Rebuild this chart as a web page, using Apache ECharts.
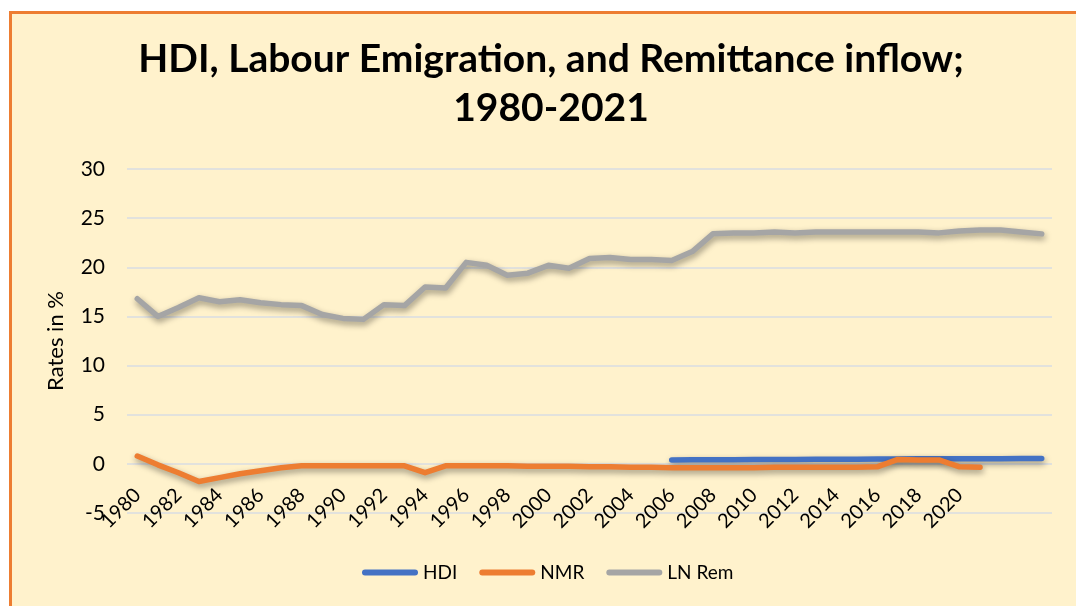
<!DOCTYPE html>
<html>
<head>
<meta charset="utf-8">
<script src="https://cdn.jsdelivr.net/npm/echarts@6/dist/echarts.min.js"></script>
<style>
  html, body { margin: 0; padding: 0; background: #ffffff; }
  #frame { position: absolute; left: 9px; top: 11px; width: 1100px; height: 700px;
           background: #FFF2CC; border-left: 3px solid #ED7D31; border-top: 3px solid #ED7D31; box-sizing: border-box; }
  #chart { position: absolute; left: 0; top: 0; width: 1076px; height: 606px; }
</style>
</head>
<body>
<div id="frame"></div>
<div id="chart"></div>
<script>
// Categories (years); last three slots carry no label in the source chart
const years = ['1980','1981','1982','1983','1984','1985','1986','1987','1988','1989',
  '1990','1991','1992','1993','1994','1995','1996','1997','1998','1999',
  '2000','2001','2002','2003','2004','2005','2006','2007','2008','2009',
  '2010','2011','2012','2013','2014','2015','2016','2017','2018','2019',
  '2020','2021','', ' ', '  '];

// HDI: 2006-2024
const hdi = [null,null,null,null,null,null,null,null,null,null,
  null,null,null,null,null,null,null,null,null,null,
  null,null,null,null,null,null,
  0.40,0.41,0.42,0.43,0.44,0.45,0.45,0.46,0.47,0.48,
  0.49,0.50,0.51,0.52,0.52,0.53,0.53,0.54,0.55];

// NMR: 1980-2021
const nmr = [0.8,-0.1,-0.9,-1.8,-1.4,-1.0,-0.7,-0.4,-0.2,-0.2,
  -0.2,-0.2,-0.2,-0.2,-0.9,-0.2,-0.2,-0.2,-0.2,-0.25,
  -0.25,-0.25,-0.3,-0.3,-0.35,-0.35,-0.4,-0.4,-0.4,-0.4,
  -0.4,-0.35,-0.35,-0.35,-0.35,-0.35,-0.3,0.45,0.4,0.4,
  -0.3,-0.35,null,null,null];

// LN Rem: 1980-2024
const lnRem = [16.8,15.0,15.9,16.9,16.5,16.7,16.4,16.2,16.1,15.2,
  14.8,14.7,16.2,16.1,18.0,17.9,20.5,20.2,19.2,19.4,
  20.2,19.9,20.9,21.0,20.8,20.8,20.7,21.6,23.4,23.5,
  23.5,23.6,23.5,23.6,23.6,23.6,23.6,23.6,23.6,23.5,
  23.7,23.8,23.8,23.6,23.4];

const yMin = -5, yMax = 30, yStep = 5;

const font = 'Lato, "Noto Sans", sans-serif';
const chart = echarts.init(document.getElementById('chart'), null, { renderer: 'canvas' });

function lineSeries(name, data, color) {
  return {
    name: name, type: 'line', data: data, symbol: 'none', smooth: false,
    connectNulls: false,
    lineStyle: { width: 5.5, color: color, cap: 'round', join: 'round',
      shadowColor: 'rgba(0,0,0,0.4)', shadowBlur: 6, shadowOffsetY: 3, shadowOffsetX: 1 },
    itemStyle: { color: color }
  };
}

const capsule = 'path://M3,0 H53 A3,3 0 0 1 53,6 H3 A3,3 0 0 1 3,0 Z';

// plot height 344px over 35 units -> one step (5 units) = 49.14px
const plotTop = 169, plotBottom = 93;
const stepPx = (606 - plotTop - plotBottom) / ((yMax - yMin) / yStep);

chart.setOption({
  backgroundColor: 'transparent',
  animation: false,
  title: {
    text: 'HDI, Labour Emigration, and Remittance inflow;\n1980-2021',
    left: 546, top: 30, textAlign: 'center',
    textStyle: { fontFamily: font, fontWeight: 'bold', fontSize: 39, lineHeight: 49, color: '#000' }
  },
  legend: {
    left: 357, top: 558,
    itemWidth: 56, itemHeight: 6, itemGap: 22,
    textStyle: { fontFamily: font, fontSize: 19, color: '#000' },
    data: [
      { name: 'HDI', icon: capsule },
      { name: 'NMR', icon: capsule },
      { name: 'LN Rem', icon: capsule }
    ]
  },
  grid: { left: 127, right: 24, top: plotTop, bottom: plotBottom, containLabel: false },
  xAxis: {
    type: 'category', data: years, boundaryGap: true,
    offset: -stepPx,
    axisLine: { show: false, onZero: false },
    axisTick: { show: false },
    axisLabel: { interval: 1, rotate: 45, margin: 28, fontFamily: font, fontSize: 20, color: '#000' },
    splitLine: { show: false }
  },
  yAxis: {
    type: 'value', min: yMin, max: yMax, interval: yStep,
    name: 'Rates in %', nameLocation: 'middle', nameGap: 60,
    nameTextStyle: { fontFamily: font, fontSize: 22, color: '#000' },
    axisLine: { show: false }, axisTick: { show: false },
    axisLabel: { margin: 22, fontFamily: font, fontSize: 21, color: '#000' },
    splitLine: { lineStyle: { color: '#D9DDE3', width: 1.5 } }
  },
  series: [
    lineSeries('HDI', hdi, '#4472C4'),
    lineSeries('NMR', nmr, '#ED7D31'),
    lineSeries('LN Rem', lnRem, '#A5A5A5')
  ]
});
</script>
</body>
</html>
